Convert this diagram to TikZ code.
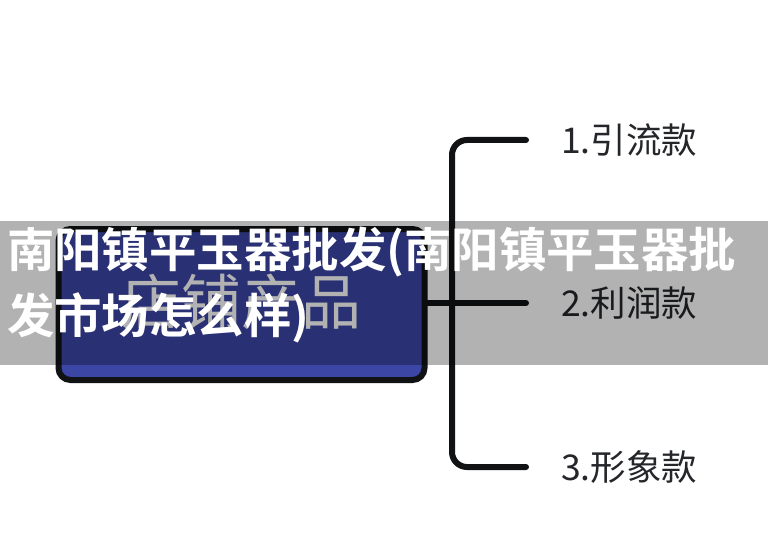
\documentclass[tikz,border=0pt]{standalone}
\usepackage{fontspec}
\setmainfont{Noto Sans CJK SC}
\newfontfamily\cjkbold[BoldFont=*]{Noto Sans CJK SC Bold}
\definecolor{boxblue}{HTML}{3B46A5}
\definecolor{inkline}{HTML}{111214}
\definecolor{labelink}{HTML}{24262A}
\tikzset{
  x=1pt,y=-1pt,
  mainbox/.style={draw=inkline,line width=6pt,fill=boxblue,rounded corners=12pt,minimum width=366pt,minimum height=151pt,inner sep=0pt},
  boxtext/.style={text=white,font=\fontsize{60}{60}\selectfont,inner sep=0pt},
  itemlabel/.style={text=labelink,anchor=west,font=\fontsize{35.5}{36}\selectfont,inner sep=0pt},
  branch/.style={draw=inkline,line width=6pt,line cap=round,rounded corners=15pt},
  banner/.style={fill=black,fill opacity=.3,draw=none,minimum width=768pt,minimum height=144pt,inner sep=0pt},
  overlaytext/.style={text=white,anchor=west,font=\cjkbold\fontsize{47.4}{48}\selectfont,inner sep=0pt},
}
\begin{document}
\begin{tikzpicture}
\useasboundingbox (0,0) rectangle (768,556);
\fill[white] (0,0) rectangle (768,556);
\node[mainbox] (box) at (241.5,304.5) {};
\node[boxtext] (boxlabel) at (241.5,302) {店铺产品};
\node[itemlabel] (l1) at (561,140) {1.引流款};
\node[itemlabel] (l2) at (561,303) {2.利润款};
\node[itemlabel] (l3) at (561,467) {3.形象款};
\coordinate (e1) at (526,140);
\coordinate (e2) at (526,303);
\coordinate (e3) at (526,467);
\draw[branch] (e1) -- (452,140) -- (452,467) -- (e3);
\draw[branch] (box.east |- e2) -- (e2);
\node[banner] (band) at (384,293) {};
\node[overlaytext] (t1) at (7,252) {南阳镇平玉器批发(南阳镇平玉器批};
\node[overlaytext] (t2) at (7,318) {发市场怎么样)};
\end{tikzpicture}
\end{document}
